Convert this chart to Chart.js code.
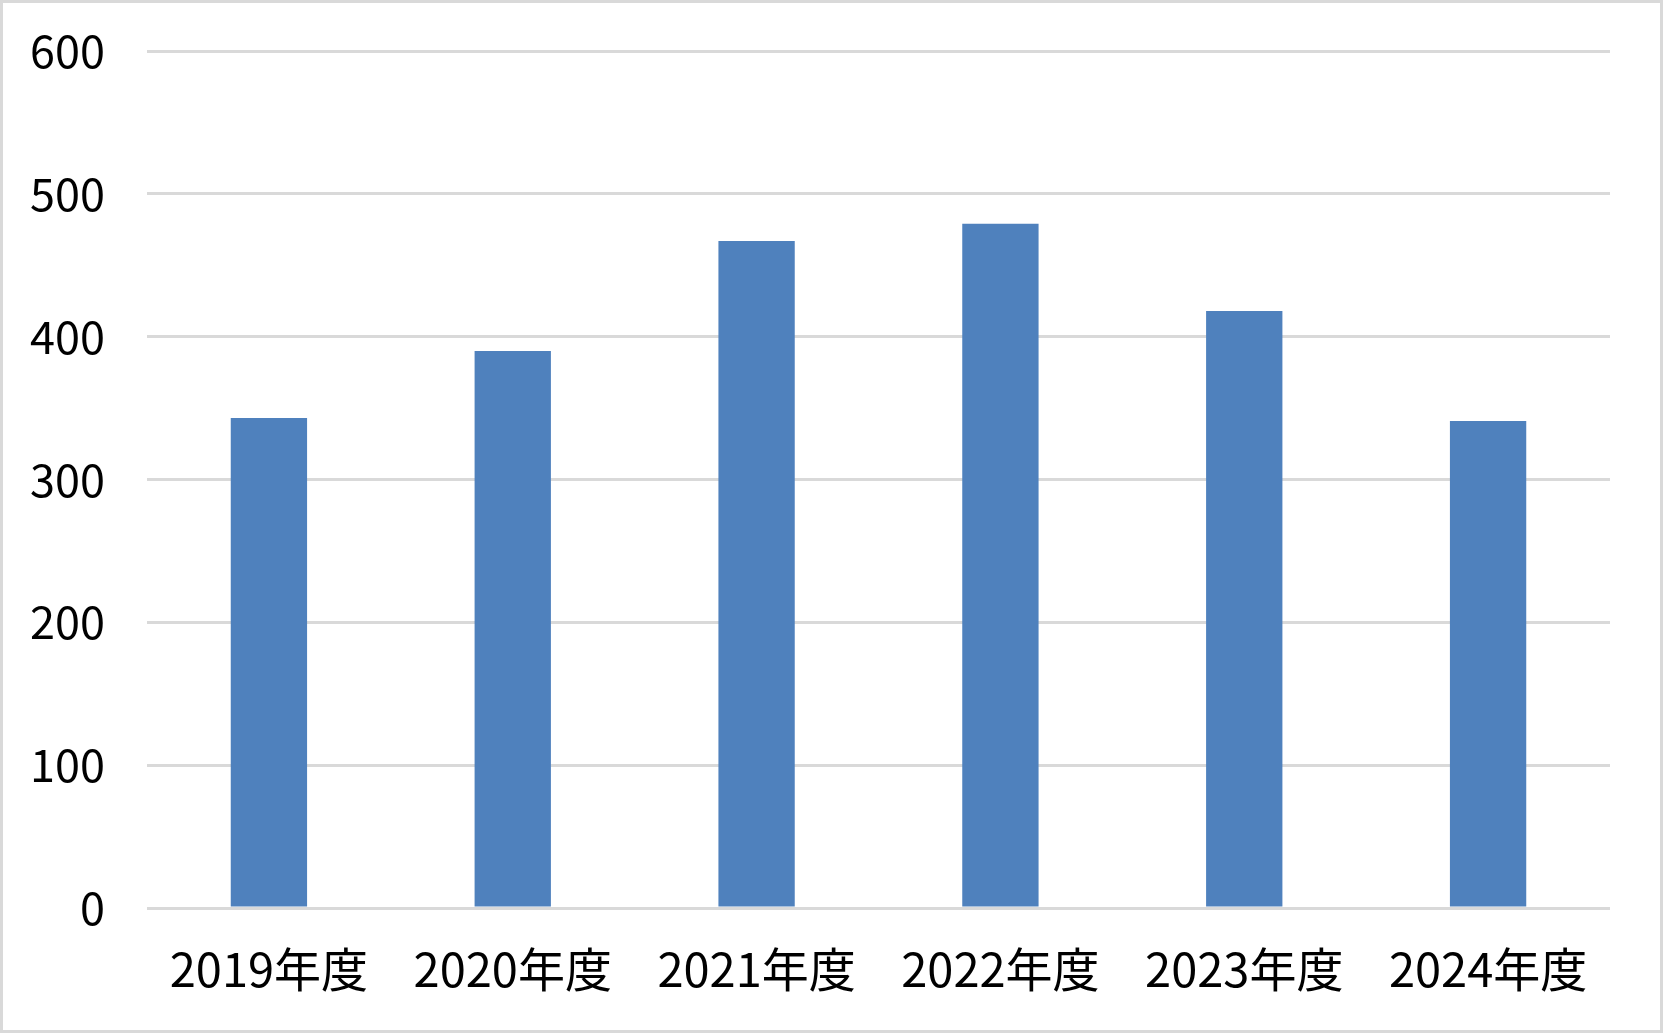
<!DOCTYPE html>
<html>
<head>
<meta charset="utf-8">
<script src="https://cdn.jsdelivr.net/npm/chart.js@4.4.1/dist/chart.umd.min.js"></script>
<style>
  html, body { margin: 0; padding: 0; background: #fff; }
  #wrap { position: relative; width: 1663px; height: 1033px; }
</style>
</head>
<body>
<div id="wrap"><canvas id="chart" width="1663" height="1033"></canvas></div>
<script>
// values
const categories = ["2019年度", "2020年度", "2021年度", "2022年度", "2023年度", "2024年度"];
const counts = [343, 390, 467, 479, 418, 341];
const yMax = 600;
const yStep = 100;

const fontFamily = "'Noto Sans CJK JP', 'Noto Sans', sans-serif";

// light gray frame round the picture
const framePlugin = {
  id: "frame",
  afterDraw(chart) {
    const ctx = chart.ctx;
    ctx.save();
    ctx.strokeStyle = "#d9d9d9";
    ctx.lineWidth = 3;
    ctx.strokeRect(1.5, 1.5, chart.width - 3, chart.height - 3);
    ctx.restore();
  }
};

const node = document.getElementById("chart");
const myChart = new Chart(node, {
  type: "bar",
  data: {
    labels: categories,
    datasets: [
      {
        label: "件数",
        data: counts,
        backgroundColor: "#4f81bd",
        borderWidth: 0,
        barPercentage: 0.313,
        categoryPercentage: 1.0
      }
    ]
  },
  options: {
    responsive: false,
    animation: false,
    layout: { padding: { top: 51, right: 53, bottom: 0, left: 0 } },
    plugins: {
      legend: { display: false },
      tooltip: { enabled: false }
    },
    scales: {
      x: {
        grid: { display: false, drawTicks: false },
        border: { display: false },
        ticks: {
          color: "#000",
          padding: 33,
          maxRotation: 0,
          font: { family: fontFamily, size: 47 }
        },
        afterFit(scale) {
          scale.height = 125;
          scale.paddingLeft = 0;
          scale.paddingRight = 0;
        }
      },
      y: {
        min: 0,
        max: yMax,
        grid: { color: "#d9d9d9", lineWidth: 3, drawTicks: false },
        border: { display: false },
        ticks: {
          stepSize: yStep,
          color: "#000",
          padding: 42,
          font: { family: fontFamily, size: 45 }
        },
        afterFit(scale) {
          scale.width = 147;
          scale.paddingTop = 0;
          scale.paddingBottom = 0;
        }
      }
    }
  },
  plugins: [framePlugin]
});
</script>
</body>
</html>
